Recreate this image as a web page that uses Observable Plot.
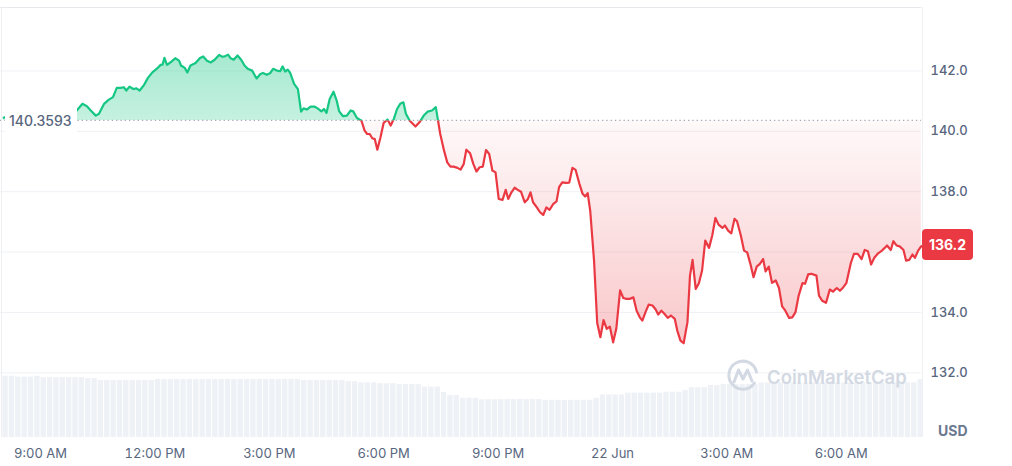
<!DOCTYPE html>
<html><head><meta charset="utf-8">
<script src="https://cdn.jsdelivr.net/npm/d3@7"></script>
<script src="https://cdn.jsdelivr.net/npm/@observablehq/plot@0.6"></script>
<style>html,body{margin:0;padding:0;background:#fff;} #chart{width:1012px;height:466px;overflow:hidden}</style>
</head><body><div id="chart"></div>
<script>
// Opening (reference) price shown on the dotted line
const baseline = 140.3593;
const unit = "USD";
// [minutes after 21 Jun 9:00 AM, price]
const priceSeries = [
[-58,140.45],[-50,140.52],[-40,140.58],[-30,140.50],[-20,140.62],[-10,140.70],[0,140.64],[10,140.55],[20,140.60],[30,140.72],
[40,140.66],[50,140.60],[57,140.69],[66,140.91],[73,140.83],[79,140.69],[87,140.52],[92,140.58],[100,140.91],[107,141.04],
[114,141.13],[120,141.44],[126,141.44],[131,141.46],[135,141.35],[140,141.48],[146,141.40],[151,141.42],[156,141.35],[163,141.54],
[169,141.77],[176,141.95],[184,142.09],[189,142.20],[192,142.21],[195,142.43],[199,142.20],[206,142.31],[212,142.42],[218,142.34],
[221,142.18],[227,142.10],[231,141.95],[236,142.18],[244,142.26],[251,142.43],[256,142.48],[262,142.34],[268,142.28],[274,142.37],
[281,142.53],[286,142.47],[290,142.48],[295,142.54],[299,142.42],[304,142.37],[310,142.51],[316,142.36],[321,142.18],[326,142.07],
[333,142.01],[340,141.75],[346,141.90],[350,141.93],[356,141.87],[361,141.92],[366,142.07],[372,142.01],[377,141.99],[381,142.15],
[385,141.98],[389,142.04],[393,141.93],[399,141.57],[405,141.40],[410,140.65],[414,140.76],[419,140.72],[425,140.82],[431,140.82],
[436,140.76],[442,140.66],[446,140.74],[450,140.61],[455,141.07],[461,141.31],[466,141.02],[470,140.66],[476,140.50],[482,140.52],
[488,140.69],[492,140.66],[498,140.44],[505,140.35],[510,140.02],[514,139.91],[518,139.91],[522,139.77],[526,139.74],[530,139.39],
[535,139.80],[540,140.28],[546,140.39],[551,140.19],[556,140.41],[561,140.74],[566,140.91],[571,140.96],[575,140.58],[581,140.35],
[590,140.16],[597,140.32],[603,140.52],[609,140.65],[616,140.69],[622,140.80],[629,139.91],[635,139.36],[640,138.97],[645,138.83],
[650,138.83],[656,138.79],[661,138.73],[666,138.92],[670,139.39],[676,139.27],[681,138.92],[686,138.67],[691,138.81],[696,138.83],
[701,139.38],[706,139.25],[711,138.70],[716,138.64],[721,137.76],[727,137.73],[732,138.06],[736,137.76],[741,137.98],[746,138.13],
[751,138.06],[756,138.00],[762,137.65],[767,137.76],[771,137.98],[775,137.65],[781,137.48],[786,137.32],[791,137.23],[796,137.48],
[801,137.40],[807,137.60],[812,137.68],[816,138.15],[821,138.31],[827,138.29],[832,138.30],[837,138.79],[842,138.72],[848,138.26],
[853,137.93],[857,137.84],[861,137.95],[865,137.37],[871,135.72],[876,133.65],[881,133.18],[886,133.75],[891,133.46],[896,133.53],
[901,133.01],[906,133.46],[912,134.73],[917,134.48],[922,134.45],[927,134.45],[933,134.50],[938,134.06],[943,133.84],[947,133.73],
[952,134.01],[957,134.26],[963,134.23],[968,134.10],[972,133.93],[977,134.06],[982,133.95],[987,133.82],[992,133.90],[998,133.79],
[1002,133.40],[1007,133.07],[1012,132.98],[1018,133.68],[1022,135.22],[1026,135.74],[1031,134.78],[1036,134.97],[1041,135.39],[1046,136.38],
[1052,136.14],[1057,136.55],[1062,137.13],[1067,136.91],[1073,136.80],[1077,136.88],[1082,136.71],[1087,136.62],[1092,137.10],[1096,137.02],
[1102,136.55],[1107,136.05],[1112,135.99],[1117,135.61],[1122,135.17],[1127,135.52],[1132,135.61],[1137,135.77],[1141,135.36],[1146,135.52],
[1151,134.98],[1157,135.06],[1162,134.81],[1167,134.20],[1172,134.06],[1178,133.82],[1183,133.84],[1188,134.01],[1193,134.56],[1199,134.97],
[1203,134.95],[1208,135.26],[1213,135.28],[1221,135.22],[1225,134.56],[1230,134.39],[1236,134.32],[1242,134.76],[1247,134.69],[1253,134.81],
[1258,134.72],[1263,134.83],[1268,134.97],[1275,135.63],[1280,135.94],[1286,135.94],[1292,135.77],[1297,136.07],[1302,136.03],[1307,135.59],
[1312,135.81],[1318,135.96],[1323,136.03],[1328,136.13],[1332,136.22],[1338,136.07],[1342,136.36],[1347,136.22],[1352,136.19],[1358,136.07],
[1362,135.72],[1367,135.74],[1372,135.92],[1376,135.81],[1381,136.05],[1386,136.20]
];
// Volume (billions, relative), one bar per 10 minutes starting 21 Jun 8:00 AM
const volumeStartMinutes = -60;
const volumeStepMinutes = 10;
const volumes = [
2.03,2.03,2.00,2.00,2.00,2.03,1.98,1.98,1.98,1.98,1.98,1.98,1.98,1.95,1.95,1.89,1.89,1.89,1.89,1.89,
1.89,1.89,1.89,1.89,1.92,1.92,1.92,1.92,1.92,1.92,1.92,1.92,1.92,1.92,1.92,1.92,1.92,1.92,1.92,1.92,
1.92,1.92,1.92,1.92,1.92,1.92,1.92,1.89,1.89,1.89,1.89,1.89,1.89,1.89,1.85,1.85,1.81,1.81,1.81,1.78,
1.78,1.78,1.75,1.75,1.75,1.75,1.67,1.67,1.67,1.49,1.39,1.39,1.30,1.30,1.30,1.25,1.25,1.25,1.25,1.26,
1.26,1.26,1.26,1.26,1.26,1.23,1.23,1.23,1.23,1.23,1.23,1.23,1.23,1.30,1.41,1.41,1.41,1.41,1.47,1.47,
1.47,1.47,1.47,1.47,1.50,1.50,1.50,1.56,1.65,1.65,1.65,1.72,1.72,1.75,1.75,1.75,1.75,1.75,1.75,1.81,
1.81,1.81,1.81,1.81,1.81,1.81,1.81,1.81,1.81,1.81,1.81,1.81,1.81,1.81,1.81,1.81,1.81,1.81,1.81,1.81,
1.81,1.81,1.81,1.81,1.92
];
const gridTicks = [132, 134, 136, 138, 140, 142];
const yTickLabels = [132, 134, 138, 140, 142]; // 136.0 is hidden under the last-price tag
const xTickLabels = ["9:00 AM", "12:00 PM", "3:00 PM", "6:00 PM", "9:00 PM", "22 Jun", "3:00 AM", "6:00 AM"];

const t0 = new Date(2024, 5, 21, 9, 0);
const at = m => new Date(t0.getTime() + m * 60000);
const prices = priceSeries.map(([m, v]) => ({t: at(m), v}));
const vols = volumes.map((v, i) => ({
  t1: at(volumeStartMinutes + i * volumeStepMinutes),
  t2: at(volumeStartMinutes + (i + 1) * volumeStepMinutes), v}));
const xTicks = xTickLabels.map((_, i) => at(i * 180));

const yDomain = [129.86, 144.10];
const xDomain = [at(-63), at(1386.3)];
const green = "#16c784", red = "#ea3943";

const plot = Plot.plot({
  width: 1012, height: 466,
  marginLeft: 0, marginRight: 91, marginTop: 7, marginBottom: 29,
  style: {fontFamily: "Inter, sans-serif", fontSize: "13px", color: "#58667e", background: "#fff", overflow: "visible"},
  x: {type: "time", domain: xDomain, label: null},
  y: {domain: yDomain, label: null},
  marks: [
    Plot.ruleY(gridTicks, {stroke: "#eff1f4", strokeWidth: 1}),
    Plot.rectY(vols, {x1: "t1", x2: "t2", y1: yDomain[0], y2: d => yDomain[0] + d.v, fill: "#eef1f5", insetLeft: 0.5, insetRight: 0.5}),
    Plot.areaY(prices, {x: "t", y1: baseline, y2: "v", fill: "url(#gUp)"}),
    Plot.areaY(prices, {x: "t", y1: baseline, y2: "v", fill: "url(#gDown)"}),
    Plot.ruleY([baseline], {stroke: "#a3abb8", strokeDasharray: "1.3,3", strokeWidth: 1.3}),
    Plot.lineY(prices, {x: "t", y: "v", stroke: green, strokeWidth: 2.2}),
    Plot.lineY(prices, {x: "t", y: "v", stroke: red, strokeWidth: 2.2}),
    Plot.ruleY([yDomain[1]], {stroke: "#e6e8ec", strokeWidth: 1.2}),
    Plot.ruleX([xDomain[0]], {stroke: "#eef0f3", dx: 1}),
    Plot.ruleX([xDomain[1]], {stroke: "#eef0f3", dx: 1}),
    Plot.axisY({anchor: "right", ticks: yTickLabels, tickSize: 0, tickPadding: 9, tickFormat: d3.format(".1f"), fontWeight: 500, fontSize: 13}),
    Plot.axisX({ticks: xTicks, tickSize: 0, tickPadding: 11, fontSize: 13,
      tickFormat: d => xTickLabels[xTicks.findIndex(t => +t === +d)]})
  ]
});
document.getElementById("chart").appendChild(plot);

const ys = plot.scale("y");
const yb = ys.apply(baseline);
const svg = d3.select(plot);
const defs = svg.append("defs");
const gU = defs.append("linearGradient").attr("id", "gUp").attr("gradientUnits", "userSpaceOnUse")
  .attr("x1", 0).attr("x2", 0).attr("y1", ys.apply(d3.max(prices, d => d.v))).attr("y2", yb);
gU.append("stop").attr("offset", 0).attr("stop-color", green).attr("stop-opacity", 0.38);
gU.append("stop").attr("offset", 1).attr("stop-color", green).attr("stop-opacity", 0.25);
const gD = defs.append("linearGradient").attr("id", "gDown").attr("gradientUnits", "userSpaceOnUse")
  .attr("x1", 0).attr("x2", 0).attr("y1", yb).attr("y2", ys.apply(d3.min(prices, d => d.v)));
gD.append("stop").attr("offset", 0).attr("stop-color", red).attr("stop-opacity", 0.03);
gD.append("stop").attr("offset", 1).attr("stop-color", red).attr("stop-opacity", 0.28);
defs.append("clipPath").attr("id", "clipUp").append("rect").attr("x", -10).attr("y", -10).attr("width", 1030).attr("height", yb + 10);
defs.append("clipPath").attr("id", "clipDown").append("rect").attr("x", -10).attr("y", yb).attr("width", 1030).attr("height", 480 - yb);
svg.selectAll('g[fill="url(#gUp)"]').attr("clip-path", "url(#clipUp)");
svg.selectAll('g[fill="url(#gDown)"]').attr("clip-path", "url(#clipDown)");
svg.selectAll(`g[stroke="${green}"]`).attr("clip-path", "url(#clipUp)");
svg.selectAll(`g[stroke="${red}"]`).attr("clip-path", "url(#clipDown)");

// baseline price label
svg.append("rect").attr("x", 5).attr("y", yb - 12).attr("width", 72).attr("height", 24).attr("fill", "#fff");
svg.append("text").attr("x", 9).attr("y", yb + 1).attr("text-anchor", "start").attr("dominant-baseline", "central")
  .attr("font-size", 14).attr("font-weight", 500).attr("fill", "#58667e").text(baseline.toString());

// last price label
const last = prices[prices.length - 1];
const yl = ys.apply(last.v);
svg.append("rect").attr("x", 922).attr("y", yl - 16.5).attr("width", 51).attr("height", 31).attr("rx", 4).attr("fill", red);
svg.append("text").attr("x", 947.5).attr("y", yl - 1).attr("text-anchor", "middle").attr("dominant-baseline", "central")
  .attr("font-size", 14).attr("font-weight", 700).attr("fill", "#fff").text(d3.format(".1f")(last.v));

// unit label
svg.append("text").attr("x", 938).attr("y", 430).attr("text-anchor", "start").attr("dominant-baseline", "central")
  .attr("font-size", 14).attr("font-weight", 700).attr("fill", "#6b7890").text(unit);

// watermark
const wm = svg.append("g");
wm.append("path").attr("d", "M754.5,383 A14,14 0 1 1 756.5,372")
  .attr("fill", "none").attr("stroke", "#d3d9e3").attr("stroke-width", 3).attr("stroke-linecap", "round");
wm.append("path").attr("d", "M734,382 L738.5,370 L743,379 L747.5,370 L752,381")
  .attr("fill", "none").attr("stroke", "#d3d9e3").attr("stroke-width", 3).attr("stroke-linejoin", "round").attr("stroke-linecap", "round");
wm.append("text").attr("x", 767).attr("y", 377).attr("text-anchor", "start").attr("dominant-baseline", "central")
  .attr("font-size", 18.5).attr("font-weight", 600).attr("fill", "#d3d9e3").text("CoinMarketCap");
</script>
</body></html>
